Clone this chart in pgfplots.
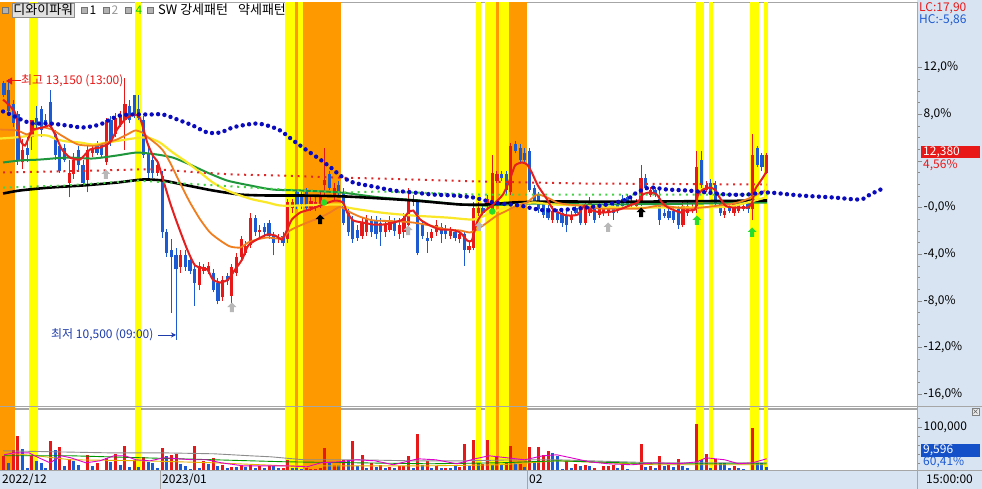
\documentclass[border=0pt]{standalone}
\usepackage{fontspec}
\usepackage{pgfplots}
\usepackage{pgfplotstable}
\pgfplotsset{compat=1.18}
\usetikzlibrary{arrows.meta}
\setmainfont{Liberation Sans}
\newfontfamily\kr{Noto Sans CJK KR}
\newcommand{\lab}{\kr\fontsize{12}{14}\selectfont}
\newcommand{\labL}{\kr\fontsize{13}{15}\selectfont}
\definecolor{cred}{RGB}{232,24,24}
\definecolor{cblue}{RGB}{28,90,210}
\definecolor{bandY}{RGB}{255,255,0}
\definecolor{bandO}{RGB}{255,153,0}
\definecolor{strip}{RGB}{216,228,242}
\definecolor{maR}{RGB}{230,30,30}
\definecolor{maO}{RGB}{240,125,30}
\definecolor{maY}{RGB}{250,232,40}
\definecolor{maG}{RGB}{30,150,60}
\definecolor{dotB}{RGB}{10,10,190}
\definecolor{dotR}{RGB}{225,40,40}
\definecolor{dotG}{RGB}{70,210,70}
\definecolor{txtB}{RGB}{30,60,170}
\definecolor{lime}{RGB}{40,220,40}
\definecolor{grn4}{RGB}{0,200,0}
\definecolor{vY}{RGB}{230,180,0}
\definecolor{vG}{RGB}{0,150,0}
\definecolor{vM}{RGB}{220,0,200}
\definecolor{boxB}{RGB}{20,80,200}
\pgfdeclareplotmark{uarr}{%
  \pgfpathmoveto{\pgfqpoint{0pt}{5pt}}%
  \pgfpathlineto{\pgfqpoint{4.5pt}{0.5pt}}%
  \pgfpathlineto{\pgfqpoint{2pt}{0.5pt}}%
  \pgfpathlineto{\pgfqpoint{2pt}{-4.5pt}}%
  \pgfpathlineto{\pgfqpoint{-2pt}{-4.5pt}}%
  \pgfpathlineto{\pgfqpoint{-2pt}{0.5pt}}%
  \pgfpathlineto{\pgfqpoint{-4.5pt}{0.5pt}}%
  \pgfpathclose\pgfusepathqfill}
\newcommand{\band}[5]{\addplot[fill=#1, draw=none] coordinates {(#2,#4) (#2,#5) (#3,#5) (#3,#4)};}

% red (rising) candles: x high low bodytop bodybottom (in %)
\pgfplotstableread{
x h l t b
4 5.83 3.26 4.97 3.86
6 7.54 4.97 7.46 6.00
14 4.11 0.86 3.00 2.14
15 4.71 2.48 4.11 2.83
18 5.31 1.29 4.97 2.40
19 5.40 4.37 5.14 4.71
22 7.71 3.60 7.46 3.86
24 8.14 6.00 7.71 6.26
25 8.31 6.86 7.88 7.11
26 11.14 4.97 8.83 7.54
33 3.86 2.74 3.60 3.00
38 -3.68 -5.57 -4.11 -5.14
42 -4.71 -7.11 -4.97 -6.68
43 -4.88 -5.74 -5.14 -5.40
44 -4.71 -5.74 -4.97 -5.40
47 -5.83 -7.97 -6.17 -7.71
49 -4.88 -8.40 -5.14 -7.54
50 -3.86 -5.91 -4.28 -5.57
51 -2.40 -4.54 -2.74 -4.28
52 -2.83 -4.11 -3.26 -3.86
53 -0.43 -3.43 -0.86 -3.17
55 -1.54 -2.49 -1.89 -2.14
59 -2.23 -3.00 -2.57 -2.74
61 0.69 -3.00 0.43 -2.74
62 0.77 -0.43 0.43 0.00
66 0.94 -0.26 0.60 0.00
67 0.86 -0.26 0.43 0.00
68 1.29 0.00 0.86 0.26
69 5.14 0.86 2.40 1.89
71 2.14 0.60 1.71 0.86
77 -0.94 -2.66 -1.29 -2.40
78 -0.60 -2.40 -0.86 -2.14
82 -1.20 -2.49 -1.54 -2.14
83 -0.69 -2.14 -1.03 -1.89
85 -0.94 -2.66 -1.46 -2.31
86 -0.43 -2.57 -0.86 -2.14
87 1.71 -1.71 0.69 -1.46
88 1.03 0.09 0.69 0.43
92 -1.80 -2.83 -2.14 -2.57
93 -1.11 -2.40 -1.46 -2.14
96 -1.63 -2.74 -1.97 -2.40
98 -1.97 -3.08 -2.31 -2.74
100 -2.91 -3.94 -3.26 -3.60
101 0.43 -3.68 0.00 -3.43
102 0.43 -0.69 0.00 -0.43
104 1.03 -0.17 0.69 0.17
105 4.46 -0.43 3.00 -0.26
106 3.17 2.06 2.83 2.31
109 5.57 1.03 5.31 1.29
118 0.09 -1.29 -0.26 -1.03
122 -0.34 -1.37 -0.69 -1.11
125 0.60 -1.54 0.26 -1.29
126 0.94 -0.77 0.60 -0.43
128 0.17 -0.86 -0.17 -0.60
129 0.34 -0.69 0.00 -0.43
130 0.17 -0.69 -0.17 -0.43
135 0.77 0.00 0.43 0.26
136 0.77 -0.09 0.43 0.17
137 3.68 0.17 2.57 0.43
139 1.80 0.86 1.46 1.11
146 0.51 -1.71 0.17 -1.46
147 0.51 -0.69 0.17 -0.43
148 0.34 -0.51 0.00 -0.26
149 4.88 -0.43 3.43 -0.17
151 2.31 1.29 1.97 1.54
155 0.09 -0.86 -0.26 -0.60
157 0.60 -0.69 0.26 -0.43
158 0.60 -0.51 0.26 -0.26
159 0.51 -0.34 0.17 -0.09
161 6.26 -1.11 4.46 -0.17
164 4.71 2.83 4.54 3.00
}\redc

% blue (falling) candles
\pgfplotstableread{
x h l t b
0 10.88 9.43 10.63 9.68
1 11.05 7.97 10.11 8.31
2 9.17 6.86 8.83 7.28
3 8.31 3.68 7.97 4.11
5 6.00 3.86 5.14 4.54
7 8.74 6.68 7.71 7.03
8 8.74 6.00 8.40 6.68
9 7.97 6.86 7.54 7.20
10 10.11 6.68 9.00 6.86
11 6.60 4.11 6.26 4.46
12 5.57 3.00 5.31 3.17
13 5.40 3.86 5.14 4.11
16 5.31 3.17 4.97 3.60
17 4.03 1.89 3.68 2.14
20 5.66 4.46 5.40 4.71
21 5.57 4.28 5.40 4.54
23 7.88 5.31 7.54 5.57
27 9.17 7.20 8.74 7.46
28 9.68 7.63 9.60 7.88
29 9.68 7.46 8.40 7.71
30 7.88 4.28 7.46 4.54
31 5.14 2.57 4.71 3.00
32 4.71 2.57 4.11 3.00
34 3.17 -2.57 2.74 -2.14
35 -1.80 -4.20 -2.14 -3.86
36 -2.74 -9.00 -3.68 -4.28
37 -3.43 -11.31 -4.11 -5.31
39 -3.68 -5.40 -4.03 -5.14
40 -4.11 -5.74 -4.46 -5.40
41 -4.88 -8.40 -5.31 -6.43
45 -5.23 -7.28 -5.57 -7.03
46 -6.08 -8.31 -6.43 -7.97
48 -5.57 -6.60 -5.83 -6.26
54 -0.60 -2.40 -0.86 -2.14
56 -1.37 -2.49 -1.71 -2.14
57 -1.03 -2.66 -1.29 -2.40
58 -2.06 -4.11 -2.40 -3.00
60 -2.06 -3.34 -2.40 -3.00
63 1.54 -0.17 1.29 0.17
64 1.37 -0.09 1.03 0.26
65 1.63 -0.26 1.29 0.00
70 3.17 1.46 2.83 1.71
72 2.31 1.03 1.97 1.29
73 1.63 -1.54 1.29 -1.29
74 -0.09 -2.40 -0.43 -2.14
75 -0.77 -3.00 -1.11 -2.74
76 -1.46 -2.83 -1.89 -2.57
79 -0.69 -2.49 -1.03 -2.14
80 -0.69 -2.66 -1.03 -2.31
81 -0.94 -3.26 -1.29 -2.14
84 -0.86 -2.40 -1.29 -1.97
89 0.77 -4.11 0.43 -3.86
90 -1.20 -2.74 -1.54 -2.40
91 -2.14 -3.86 -2.57 -2.83
94 -1.37 -3.00 -1.71 -2.31
95 -1.54 -2.66 -1.89 -2.31
97 -1.80 -2.91 -2.14 -2.57
99 -1.97 -4.97 -2.31 -3.60
103 0.34 -0.77 0.00 -0.43
107 3.17 2.31 2.83 2.57
108 3.17 1.20 2.83 1.46
110 5.66 4.63 5.40 4.88
111 5.40 3.77 5.06 4.03
112 5.06 3.86 4.71 4.11
113 5.06 1.29 4.80 1.54
114 1.97 0.34 1.63 0.60
115 1.37 -0.43 1.03 -0.17
116 0.60 -0.86 0.26 -0.60
117 0.34 -1.11 0.00 -0.86
119 -0.09 -1.37 -0.43 -1.11
120 -0.09 -1.63 -0.43 -1.29
121 -0.26 -2.14 -0.60 -1.46
123 0.34 -0.69 0.00 -0.43
124 0.34 -1.54 0.00 -1.29
127 0.17 -1.29 -0.17 -1.03
131 0.51 -1.03 0.17 -0.43
132 0.60 -0.51 0.26 -0.26
133 1.03 -0.09 0.69 0.17
134 1.20 0.00 0.86 0.26
138 2.91 1.46 2.57 1.71
140 1.80 0.86 1.46 1.11
141 1.54 -1.46 0.69 -1.03
142 -0.09 -0.94 -0.43 -0.69
143 0.09 -1.11 -0.26 -0.86
144 0.09 -1.29 -0.26 -1.03
145 0.17 -1.80 -0.17 -1.54
150 4.88 1.71 4.11 1.97
152 2.48 1.03 2.14 1.29
153 2.31 0.00 1.97 0.26
154 0.60 -0.69 0.26 -0.43
156 0.34 -0.51 0.00 -0.26
160 0.60 -0.43 0.26 -0.17
162 5.31 3.43 5.14 3.68
163 4.71 3.17 4.46 3.43
}\bluec

\pgfplotstableread{
x v
0 35000
2 49000
3 80000
6 35000
10 69000
12 55000
14 29000
18 38000
20 20000
22 31000
24 40000
26 58000
28 27000
30 33000
34 53000
36 38000
37 40000
41 58000
43 24000
45 31000
47 16000
49 11000
51 16000
53 16000
55 13000
57 13000
60 9000
61 27000
65 9000
66 7000
67 7000
68 9000
69 53000
71 16000
73 27000
75 69000
77 38000
79 20000
81 16000
83 11000
85 13000
86 13000
87 35000
89 84000
91 24000
93 13000
95 9000
98 11000
99 62000
101 71000
103 18000
104 71000
106 35000
108 20000
109 58000
111 18000
113 55000
115 55000
116 38000
117 47000
121 24000
123 18000
125 16000
127 9000
129 13000
130 13000
131 16000
133 20000
137 62000
139 13000
141 35000
143 16000
145 29000
148 4000
149 107000
151 40000
153 29000
157 13000
160 4000
161 98000
}\redv

\pgfplotstableread{
x v
1 20000
4 51000
5 9000
7 24000
8 20000
9 9000
11 49000
13 13000
15 24000
16 16000
17 4000
19 13000
21 4000
23 22000
25 16000
27 11000
29 11000
31 22000
32 20000
33 9000
35 35000
38 18000
39 13000
40 7000
42 9000
44 18000
46 13000
48 9000
50 11000
52 11000
54 9000
56 9000
58 13000
59 9000
62 9000
63 9000
64 7000
70 20000
72 16000
74 27000
76 13000
78 9000
80 11000
82 9000
84 9000
88 9000
90 16000
92 9000
94 9000
96 9000
97 13000
100 13000
102 20000
105 16000
107 16000
110 20000
112 11000
114 24000
118 42000
119 35000
120 7000
122 9000
124 13000
126 13000
128 4000
132 9000
134 7000
135 4000
136 4000
138 11000
140 9000
142 13000
144 11000
146 13000
147 9000
150 27000
152 9000
154 20000
155 20000
156 9000
158 9000
159 7000
162 20000
163 20000
164 9596
}\bluev

\begin{document}
\begin{tikzpicture}[x=1pt,y=1pt]
\useasboundingbox (0,0) rectangle (982,489);
\fill[white] (0,0) rectangle (982,489);
\fill[strip] (917,0) rectangle (982,489);

% ===== price panel =====
\begin{axis}[
  at={(0,69)}, anchor=south west, scale only axis,
  width=917pt, height=406pt,
  xmin=-0.86, xmax=196.34, ymin=-17.22, ymax=17.57,
  axis line style={draw=black!35},
  xtick=\empty,
  ytick={-16,-12,-8,-4,0,4,8,12},
  yticklabels={{-16,0\%},{-12,0\%},{-8,0\%},{-4,0\%},{-0,0\%},{},{8,0\%},{12,0\%}},
  minor y tick num=3,
  ytick pos=right, yticklabel pos=right, tick align=outside,
  major tick length=5pt, minor tick length=3pt,
  tick style={black!45},
  yticklabel style={font=\kr\fontsize{12}{14}\selectfont, inner sep=1.5pt},
  scaled y ticks=false,
]
% signal bands
\band{bandO}{-0.86}{2.37}{-20}{20}
\band{bandY}{5.38}{7.31}{-20}{20}
\band{bandY}{28.17}{29.46}{-20}{20}
\band{bandY}{60.43}{62.58}{-20}{20}
\band{bandO}{62.58}{63.23}{-20}{20}
\band{bandY}{63.23}{64.30}{-20}{20}
\band{bandO}{64.30}{72.47}{-20}{20}
\band{bandY}{101.5}{102.6}{-20}{20}
\band{bandY}{103.4}{105.8}{-20}{20}
\band{bandO}{105.8}{106.5}{-20}{20}
\band{bandY}{106.5}{108.6}{-20}{20}
\band{bandO}{108.6}{112.5}{-20}{20}
\band{bandY}{148.8}{150.5}{-20}{20}
\band{bandY}{151.6}{152.5}{-20}{20}
\band{bandY}{160.4}{162.4}{-20}{20}
\band{bandY}{163.4}{164.3}{-20}{20}

% candles
\addplot[draw=cred, line width=1pt, quiver={u=0, v=\thisrow{h}-\thisrow{l}}] table[x=x, y=l] {\redc};
\addplot[draw=cblue, line width=1pt, quiver={u=0, v=\thisrow{h}-\thisrow{l}}] table[x=x, y=l] {\bluec};
\addplot[draw=cred, line width=3.2pt, quiver={u=0, v=\thisrow{t}-\thisrow{b}}] table[x=x, y=b] {\redc};
\addplot[draw=cblue, line width=3.2pt, quiver={u=0, v=\thisrow{t}-\thisrow{b}}] table[x=x, y=b] {\bluec};

% moving averages
\addplot[maG, line width=2pt, smooth, tension=0.4] coordinates {(-0.2,3.86) (3.44,4.03) (7.74,4.11) (13.5,4.28) (19.1,4.20) (24.3,4.46) (28.6,4.71) (32.9,4.54) (36.3,4.28) (40.0,3.68) (43.7,3.00) (48.0,2.31) (52.9,1.89) (57.8,1.54) (63.7,1.46) (72.3,1.29) (80.9,0.86) (89.5,0.60) (98.1,0.26) (103.9,0.17) (113.1,0.34) (128.2,0.26) (149.7,0.34) (164.1,0.43)};
\addplot[black, line width=2.6pt, smooth, tension=0.4] coordinates {(-0.2,1.20) (3.44,1.46) (9.9,1.71) (17.0,1.89) (24.3,2.14) (29.9,2.40) (34.2,2.31) (39.4,1.89) (44.9,1.46) (50.8,1.11) (56.6,1.03) (63.7,1.03) (73.8,0.94) (88.0,0.60) (98.1,0.26) (103.9,0.26) (109.5,0.43) (116.8,0.51) (124.9,0.51) (139.4,0.51) (164.1,0.60)};
\addplot[maY, line width=2.2pt, smooth, tension=0.4] coordinates {(-0.86,5.91) (2.37,6.00) (6.24,6.17) (9.25,6.17) (11.4,5.83) (13.5,5.66) (16.3,5.57) (19.1,5.40) (22.2,5.57) (24.9,5.74) (27.7,5.91) (30.8,6.00) (33.5,5.57) (36.3,4.71) (39.4,3.86) (42.2,3.00) (44.9,2.14) (48.0,1.46) (50.8,1.03) (53.5,0.69) (56.6,0.43) (59.4,0.17) (63.7,0.17) (72.3,0.26) (73.8,0) (80.9,-0.43) (88.0,-0.69) (95.3,-0.86) (100.9,-1.03) (103.9,-0.60) (106.7,-0.17) (109.5,0.17) (113.8,0.43) (118.1,0.26) (123.9,0.17) (132.5,0) (145.4,0) (156.1,0.09) (163.7,0.86)};
\addplot[maO, line width=1.8pt, smooth, tension=0.4] coordinates {(-0.86,6.68) (2.8,6.60) (4.95,6.26) (6.24,6.60) (8.4,6.86) (10.3,6.68) (12.0,6.26) (14.2,5.74) (15.9,5.40) (17.8,5.31) (20.0,5.31) (22.2,5.57) (24.3,5.83) (26.5,6.26) (28.2,6.60) (29.7,6.43) (31.0,6.00) (32.9,5.40) (34.2,4.88) (35.7,3.86) (37.8,2.14) (40.0,0.43) (42.2,-1.03) (44.3,-2.14) (46.5,-2.83) (48.6,-3.34) (50.8,-3.43) (52.5,-3.00) (54.4,-2.74) (56.6,-2.57) (58.7,-2.66) (60.0,-2.57) (61.5,-1.97) (63.7,-1.54) (65.8,-1.20) (68.0,-0.86) (70.1,-0.43) (72.3,0.05) (74.4,-0.40) (76.6,-0.80) (79.4,-1.11) (82.4,-1.15) (85.2,-1.20) (88.0,-1.29) (91.6,-1.54) (95.3,-1.89) (98.1,-1.97) (100.2,-2.14) (101.7,-1.89) (103.9,-1.29) (106.0,-0.69) (108.2,-0.26) (110.3,0.17) (112.5,0.43) (114.6,1.11) (116.8,0.86) (118.9,0.43) (121.1,0.26) (123.9,0.17) (128.2,-0.09) (136.8,-0.09) (141.1,0.17) (147.5,-0.09) (157.8,0.43) (163.7,1.46)};
\addplot[maR, line width=2pt, smooth, tension=0.35] coordinates {(-0.2,9.25) (2.37,8.14) (3.44,5.83) (4.52,5.31) (5.59,6.26) (6.24,6.68) (8.39,6.86) (9.89,7.03) (10.97,6.26) (12.47,4.97) (14.19,4.28) (16.34,4.11) (18.49,4.97) (20.65,5.14) (22.8,5.57) (24.3,6.68) (26.0,7.54) (27.7,7.97) (29.2,7.71) (30.8,5.57) (32.0,4.46) (33.1,3.86) (34.2,2.40) (35.7,0.43) (37.2,-1.29) (39.4,-3.60) (41.1,-4.97) (43.7,-5.31) (44.9,-6.17) (46.5,-6.43) (48.2,-6.17) (49.7,-5.31) (51.2,-4.46) (52.5,-3.26) (54.4,-2.74) (56.6,-2.31) (58.3,-2.40) (59.8,-2.74) (60.9,-1.89) (61.9,-1.03) (63.7,-0.43) (65.8,-0.17) (68.6,0.26) (71.2,0.60) (72.9,0.43) (73.8,-0.43) (75.1,-1.11) (77.2,-1.29) (79.4,-1.46) (81.5,-1.46) (83.7,-1.29) (85.8,-1.03) (86.9,-0.43) (88.0,-0.26) (89.5,-1.03) (91.6,-1.54) (93.8,-1.89) (95.9,-1.89) (98.1,-2.14) (99.6,-2.83) (100.6,-2.83) (101.7,-1.29) (103.0,-0.43) (105.2,0.26) (107.3,1.11) (108.8,2.40) (109.9,3.60) (111.4,3.86) (112.5,3.68) (113.5,3.00) (114.8,1.89) (116.8,0.69) (118.1,-0.17) (120.2,-0.60) (121.7,-0.69) (123.4,-0.60) (124.9,0.17) (126.5,-0.26) (128.6,-0.43) (130.8,-0.34) (132.9,-0.09) (135.1,0.26) (136.3,0.43) (137.4,1.11) (138.9,1.29) (140.4,1.11) (141.5,0.43) (142.8,0) (144.3,-0.26) (145.4,-0.43) (146.5,-0.26) (148.6,-0.17) (149.2,1.03) (150.3,1.54) (151.8,1.71) (152.9,1.54) (153.5,1.11) (155.1,0.17) (156.6,0) (158.7,0) (160.0,0) (160.9,0.43) (161.5,1.54) (162.2,1.97) (163.2,2.57) (164.1,3.17)};

% dotted indicator lines
\addplot[dotR, line width=2pt, dash pattern=on 2pt off 4.7pt] coordinates {(-0.2,3.00) (20.6,3.17) (28.6,3.26) (33.5,3.26) (42.2,3.00) (49.2,2.83) (59.4,2.74) (70.8,2.57) (80.9,2.48) (102.4,2.23) (123.9,2.06) (164.1,1.97)};
\addplot[dotG, line width=2pt, dash pattern=on 2pt off 4.7pt] coordinates {(-0.2,1.71) (13.5,1.89) (28.6,2.31) (42.2,1.97) (63.7,1.46) (73.8,1.29) (80.9,1.37) (102.4,1.11) (123.9,1.11) (164.1,1.11)};
\addplot[dotB, line width=4.4pt, line cap=round, dash pattern=on 0pt off 6.4pt, smooth, tension=0.5] coordinates {(-0.2,8.23) (1.9,7.88) (4.1,7.46) (6.2,7.20) (9.9,7.20) (13.5,7.03) (17.0,6.86) (20.6,7.11) (22.8,7.54) (24.9,7.88) (27.7,7.97) (31.4,7.97) (34.2,7.97) (37.8,7.46) (40.6,7.03) (43.7,6.43) (46.5,6.43) (49.2,6.86) (52.3,7.11) (54.4,7.20) (56.6,7.03) (59.4,6.60) (62.2,5.74) (65.2,4.88) (68.0,4.11) (70.8,3.26) (72.3,2.74) (75.1,2.14) (79.4,1.80) (83.7,1.46) (88.0,1.29) (92.3,1.11) (96.6,1.03) (100.9,0.86) (105.2,0.43) (108.8,0.26) (111.0,0.17) (113.8,-0.09) (116.8,-0.26) (121.1,-0.17) (125.4,0) (129.7,0.26) (133.9,0.69) (136.1,1.29) (138.9,1.71) (142.6,1.54) (146.9,1.46) (151.2,1.29) (155.5,1.11) (159.8,1.11) (164.1,1.29) (171.2,1.03) (178.3,0.86) (184.1,0.69) (186.2,1.11) (189.0,1.63)};

% pattern signals
\addplot[only marks, mark=uarr, color=black!28] coordinates {(21.9,2.83) (49.0,-8.57) (86.9,-1.97) (102.2,-1.63) (129.9,-1.71)};
\addplot[only marks, mark=uarr, color=black] coordinates {(68.0,-1.03) (137.0,-0.43)};
\addplot[only marks, mark=uarr, color=lime] coordinates {(149.0,-1.11) (160.9,-2.14)};
\addplot[only marks, mark=*, mark size=3pt, color=lime] coordinates {(68.8,0.43) (105.0,-0.34)};
\end{axis}

% ===== volume panel =====
\begin{axis}[
  at={(0,36)}, anchor=south west, scale only axis,
  width=917pt, height=64pt,
  xmin=-0.86, xmax=196.34, ymin=-2222, ymax=140000,
  axis line style={draw=black!35},
  xtick=\empty,
  ytick={100000}, yticklabels={{100{,}000}},
  minor ytick={20000,40000,60000,80000,120000},
  ytick pos=right, yticklabel pos=right, tick align=outside,
  major tick length=5pt, minor tick length=3pt,
  tick style={black!45},
  yticklabel style={font=\kr\fontsize{12}{14}\selectfont, inner sep=1.5pt},
  scaled y ticks=false,
]
\band{bandO}{-0.86}{2.37}{-5000}{150000}
\band{bandY}{5.38}{7.31}{-5000}{150000}
\band{bandY}{28.17}{29.46}{-5000}{150000}
\band{bandY}{60.43}{62.58}{-5000}{150000}
\band{bandO}{62.58}{63.23}{-5000}{150000}
\band{bandY}{63.23}{64.30}{-5000}{150000}
\band{bandO}{64.30}{72.47}{-5000}{150000}
\band{bandY}{101.5}{102.6}{-5000}{150000}
\band{bandY}{103.4}{105.8}{-5000}{150000}
\band{bandO}{105.8}{106.5}{-5000}{150000}
\band{bandY}{106.5}{108.6}{-5000}{150000}
\band{bandO}{108.6}{112.5}{-5000}{150000}
\band{bandY}{148.8}{150.5}{-5000}{150000}
\band{bandY}{151.6}{152.5}{-5000}{150000}
\band{bandY}{160.4}{162.4}{-5000}{150000}
\band{bandY}{163.4}{164.3}{-5000}{150000}
\addplot[draw=cred, line width=3pt, quiver={u=0, v=\thisrow{v}}] table[x=x, y expr=0] {\redv};
\addplot[draw=cblue, line width=3pt, quiver={u=0, v=\thisrow{v}}] table[x=x, y expr=0] {\bluev};
\addplot[black!45, line width=0.9pt] coordinates {(-0.2,46700) (10.8,44400) (22.2,42200) (33.8,42200) (45.2,40000) (52.9,35600) (57.4,33300) (64.5,26700) (75.9,26700) (87.5,24400) (98.9,24400) (110.5,26700) (118.9,26700) (140,20000) (164.1,20000)};
\addplot[vY, line width=0.9pt] coordinates {(0,42200) (6.9,35600) (14.4,26700) (29.9,24400) (45.2,20000) (60.6,13300) (75.9,13300) (91.4,13300) (106.7,15600) (118.9,24400) (125,22000) (140,15600) (164,15600)};
\addplot[vG, line width=0.9pt] coordinates {(0,35600) (14.4,35600) (29.9,31100) (45.2,26700) (60.6,22200) (75.9,20000) (91.4,17800) (106.7,20000) (118.9,24400) (140,17800) (164,17800)};
\addplot[vM, line width=0.9pt] coordinates {(0,37800) (2.2,42200) (5.4,42200) (7.5,31100) (9.9,20000) (12.3,35600) (14.4,31100) (17.6,20000) (20.6,24400) (23.7,35600) (26.0,35600) (28.4,26700) (31.4,24400) (34.4,31100) (37.6,28900) (40.6,26700) (43.7,26700) (46.7,20000) (51.4,13300) (55.9,13300) (60.6,13300) (65.2,11100) (68.2,20000) (72.0,22200) (75.9,26700) (79.8,24400) (83.7,15600) (89.0,28900) (92.9,26700) (97.4,17800) (101.3,28900) (104.3,35600) (108.2,31100) (112.0,26700) (115.9,35600) (118.9,37800) (122,31000) (126,22000) (130,17800) (135,15600) (140,20000) (145,17800) (149,22000) (151,31100) (155,26700) (158,17800) (161,20000) (164,28900)};
\end{axis}

% date strip drawn over anything below the volume panel
\fill[strip] (0,0) rectangle (982,19);

% frame lines
\draw[black!35] (0,83) -- (982,83);
\draw[black!35] (0,19) -- (982,19);
\draw[black!35] (160,0) -- (160,19);
\draw[black!35] (527,0) -- (527,19);
\draw[black!35] (917,0) -- (917,19);

% legend line
\filldraw[fill=black!30, draw=black!55] (2,476) rectangle (8,482);
\node[fill=black!12, draw=black!45, inner sep=1.2pt, anchor=west] at (12,479) {\labL 디와이파워};
\filldraw[fill=black!30, draw=black!55] (81,476) rectangle (87,482);
\node[anchor=center, inner sep=0pt] at (93,479) {\lab 1};
\filldraw[fill=black!30, draw=black!55] (103,476) rectangle (109,482);
\node[anchor=center, inner sep=0pt, text=black!40] at (115,479) {\lab 2};
\filldraw[fill=black!30, draw=black!55] (125,476) rectangle (131,482);
\node[anchor=center, inner sep=0pt, text=grn4] at (139,479) {\lab 4};
\filldraw[fill=black!30, draw=black!55] (147,476) rectangle (153,482);
\node[anchor=west, inner sep=0pt] at (158,479) {\labL SW 강세패턴\hspace{10pt}약세패턴};

% high / low annotations
\draw[cred, line width=1pt, -{Triangle[length=6pt,width=7pt]}] (21,408) -- (6,408);
\node[anchor=west, inner sep=0pt, text=cred] at (21,408) {\lab 최고 13,150 (13:00)};
\node[anchor=west, inner sep=0pt, text=txtB] at (51,154) {\lab 최저 10,500 (09:00)};
\draw[txtB, line width=0.8pt, -{Stealth[length=5pt,width=5pt]}] (158,154) -- (176,154);

% right side labels
\node[anchor=west, inner sep=0pt, text=cred] at (919,481) {\lab LC:17,90};
\node[anchor=west, inner sep=0pt, text=cblue] at (919,469) {\lab HC:-5,86};
\fill[cred] (921,331) rectangle (980,343);
\node[anchor=west, inner sep=0pt, text=white] at (923,337) {\lab 12,380};
\node[anchor=west, inner sep=0pt, text=cred] at (923,324) {\lab 4,56\%};
\fill[boxB] (921,32) rectangle (980,45);
\node[anchor=west, inner sep=0pt, text=white] at (923,38.5) {\lab 9,596};
\node[anchor=west, inner sep=0pt, text=cblue] at (923,26.5) {\lab 60,41\%};
\draw[black!50, fill=black!8] (972,74) rectangle (979,81);
\draw[black!60] (973.5,75.5) -- (977.5,79.5) (973.5,79.5) -- (977.5,75.5);

% date strip
\node[anchor=west, inner sep=0pt] at (2,9.5) {\lab 2022/12};
\node[anchor=west, inner sep=0pt] at (162,9.5) {\lab 2023/01};
\node[anchor=west, inner sep=0pt] at (529,9.5) {\lab 02};
\node[anchor=west, inner sep=0pt] at (926,9.5) {\lab 15:00:00};
\end{tikzpicture}
\end{document}
